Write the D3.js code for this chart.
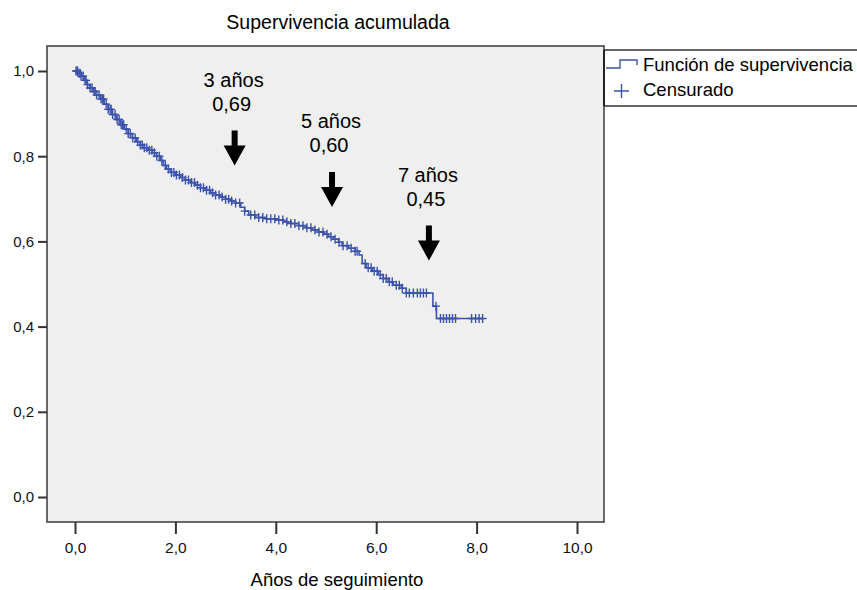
<!DOCTYPE html>
<html><head><meta charset="utf-8">
<script src="https://cdn.jsdelivr.net/npm/d3@7"></script>
<style>body{margin:0;background:#fff}svg{display:block}text{font-family:"Liberation Sans",Arial,Helvetica,sans-serif}</style>
</head><body>
<svg id="c" width="857" height="590"></svg>
<script>
const title = "Supervivencia acumulada";
const xLabel = "Años de seguimiento";
const xTicks = [0, 2, 4, 6, 8, 10];
const yTicks = [0, 0.2, 0.4, 0.6, 0.8, 1.0];
const legendLabels = ["Función de supervivencia", "Censurado"];

const stepTimes = [0.06,0.12,0.18,0.24,0.3,0.36,0.42,0.5,0.58,0.66,0.74,0.82,0.9,0.98,1.06,1.14,1.22,1.3,1.38,1.46,1.54,1.62,1.7,1.76,1.82,1.9,2.0,2.1,2.2,2.3,2.4,2.5,2.6,2.7,2.8,2.9,3.0,3.1,3.2,3.3,3.38,3.46,3.6,3.8,4.0,4.15,4.3,4.45,4.6,4.72,4.85,4.95,5.05,5.15,5.25,5.32,5.45,5.58,5.66,5.72,5.8,5.92,6.04,6.14,6.24,6.34,6.5,6.6,7.13,7.2];
const stepSurv = [0.995,0.988,0.978,0.968,0.96,0.952,0.944,0.934,0.922,0.91,0.898,0.886,0.874,0.864,0.853,0.843,0.834,0.826,0.82,0.814,0.808,0.8,0.79,0.778,0.77,0.762,0.756,0.75,0.744,0.738,0.732,0.726,0.72,0.714,0.709,0.704,0.699,0.695,0.69,0.68,0.671,0.662,0.656,0.653,0.65,0.646,0.642,0.637,0.632,0.627,0.622,0.617,0.611,0.605,0.598,0.59,0.584,0.577,0.568,0.548,0.538,0.53,0.522,0.513,0.505,0.497,0.49,0.479,0.448,0.419];
const censorTimes = [0.02,0.04,0.05,0.08,0.1,0.12,0.16,0.2,0.22,0.25,0.3,0.34,0.38,0.4,0.43,0.48,0.52,0.55,0.57,0.62,0.66,0.7,0.72,0.75,0.8,0.84,0.88,0.92,0.95,0.97,1.02,1.06,1.1,1.15,1.2,1.25,1.3,1.34,1.38,1.43,1.48,1.53,1.58,1.63,1.68,1.73,1.8,1.86,1.92,1.97,2.02,2.08,2.14,2.2,2.26,2.32,2.38,2.44,2.5,2.56,2.62,2.68,2.74,2.8,2.87,2.93,3.0,3.06,3.12,3.2,3.28,3.38,3.5,3.58,3.66,3.74,3.82,3.9,3.98,4.06,4.14,4.22,4.3,4.38,4.46,4.54,4.62,4.7,4.78,4.86,4.94,5.02,5.1,5.18,5.26,5.34,5.42,5.5,5.58,5.62,5.78,5.84,5.9,5.96,6.02,6.08,6.14,6.2,6.26,6.32,6.4,6.46,6.52,6.6,6.66,6.74,6.82,6.88,6.94,7.0,7.19,7.28,7.34,7.4,7.46,7.52,7.58,7.9,7.98,8.05,8.12];

const annYears = [3.18, 5.12, 7.05];
const annTop = ["3 años", "5 años", "7 años"];
const annValue = ["0,69", "0,60", "0,45"];
const annArrowTip = [0.778, 0.681, 0.555];

const svg = d3.select("#c");
const x = d3.scaleLinear().domain([0, 10]).range([75, 577]);
const y = d3.scaleLinear().domain([0, 1]).range([497, 71]);
const plot = {l: 47, t: 46, r: 604, b: 522};
const blue = "#3c53ab";
const fmt = d => d3.format(".1f")(d).replace(".", ",");

svg.append("rect").attr("x", plot.l).attr("y", plot.t).attr("width", plot.r - plot.l).attr("height", plot.b - plot.t)
  .attr("fill", "#efefef");

// curve
const pts = [[0, 1]];
stepTimes.forEach((t, i) => pts.push([t, stepSurv[i]]));
pts.push([d3.max(censorTimes), stepSurv[stepSurv.length - 1]]);
const line = d3.line().x(d => x(d[0])).y(d => y(d[1])).curve(d3.curveStepAfter);
svg.append("path").attr("d", line(pts)).attr("fill", "none").attr("stroke", blue).attr("stroke-width", 1.6);

function survAt(t) {
  let s = 1;
  for (let i = 0; i < stepTimes.length; i++) { if (stepTimes[i] <= t) s = stepSurv[i]; }
  return s;
}
const cg = svg.append("g").attr("stroke", blue).attr("stroke-width", 1.4);
censorTimes.forEach(t => {
  const cx = x(t), cy = y(survAt(t));
  cg.append("path").attr("d", `M${cx - 4},${cy}H${cx + 4}M${cx},${cy - 4.5}V${cy + 4.5}`);
});

// frame
svg.append("rect").attr("x", plot.l).attr("y", plot.t).attr("width", plot.r - plot.l).attr("height", plot.b - plot.t)
  .attr("fill", "none").attr("stroke", "#3a3a3a").attr("stroke-width", 1.5);

// axes
const ya = svg.append("g").attr("transform", `translate(${plot.l},0)`)
  .call(d3.axisLeft(y).tickValues(yTicks).tickFormat(fmt).tickSize(9).tickPadding(4));
ya.select(".domain").remove();
ya.selectAll("line").attr("stroke", "#333").attr("stroke-width", 2);
ya.selectAll("text").attr("font-size", 15).attr("fill", "#111");

const xa = svg.append("g").attr("transform", `translate(0,${plot.b})`)
  .call(d3.axisBottom(x).tickValues(xTicks).tickFormat(fmt).tickSize(12).tickPadding(8));
xa.select(".domain").remove();
xa.selectAll("line").attr("stroke", "#333").attr("stroke-width", 2);
xa.selectAll("text").attr("font-size", 15.5).attr("fill", "#111");

svg.append("text").attr("x", 338).attr("y", 29).attr("text-anchor", "middle").attr("font-size", 19.5).text(title);
svg.append("text").attr("x", 337).attr("y", 586).attr("text-anchor", "middle").attr("font-size", 18.5).text(xLabel);

// annotations
annYears.forEach((yr, i) => {
  const cx = x(yr);
  const tipY = y(annArrowTip[i]);
  svg.append("text").attr("x", cx - 1).attr("y", tipY - 79).attr("text-anchor", "middle").attr("font-size", 20).text(annTop[i]);
  svg.append("text").attr("x", cx - 3).attr("y", tipY - 55).attr("text-anchor", "middle").attr("font-size", 20).text(annValue[i]);
  svg.append("path")
    .attr("d", `M${cx - 3},${tipY - 35}H${cx + 3}V${tipY - 20}H${cx + 11}L${cx},${tipY}L${cx - 11},${tipY - 20}H${cx - 3}Z`)
    .attr("fill", "#000");
});

// legend
const lg = svg.append("g");
lg.append("path").attr("d", "M604,50H860M604,106H860").attr("stroke", "#333").attr("stroke-width", 1.5);
lg.append("path").attr("d", "M604,50V106").attr("stroke", "#222").attr("stroke-width", 2);
lg.append("path").attr("d", "M606,68H620V60H637V65").attr("fill", "none").attr("stroke", blue).attr("stroke-width", 1.4);
lg.append("path").attr("d", "M614,91H629M621.5,84V98").attr("stroke", blue).attr("stroke-width", 1.4);
lg.append("text").attr("x", 643).attr("y", 71).attr("font-size", 18.5).text(legendLabels[0]);
lg.append("text").attr("x", 643).attr("y", 96).attr("font-size", 18.5).text(legendLabels[1]);
</script>
</body></html>
